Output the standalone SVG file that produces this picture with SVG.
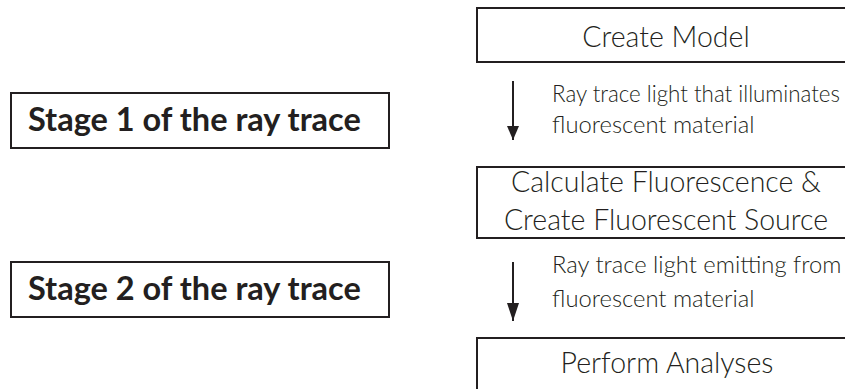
<svg xmlns="http://www.w3.org/2000/svg" width="845" height="389" viewBox="0 0 845 389">
<style>
.box{fill:#fff;stroke:#231f20;stroke-width:2}
.t{font-family:Lato,"Open Sans","Liberation Sans",sans-serif;font-weight:300;fill:#231f20}
.big{font-size:28.5px;text-anchor:middle}
.lab{font-size:23.8px}
.stage{font-family:Lato,"Open Sans","Liberation Sans",sans-serif;font-weight:700;font-size:32.5px;fill:#231f20}
.conn{stroke:#231f20;stroke-width:2;fill:none}
</style>
<defs>
<marker id="ah" viewBox="0 0 14 12" refX="14" refY="6" markerWidth="14" markerHeight="12" orient="auto" markerUnits="userSpaceOnUse">
<path d="M0,0 L14,6 L0,12 Z" fill="#231f20"/>
</marker>
<marker id="ah2" viewBox="0 0 18 12" refX="18" refY="6" markerWidth="18" markerHeight="12" orient="auto" markerUnits="userSpaceOnUse">
<path d="M0,0 L18,6 L0,12 Z" fill="#231f20"/>
</marker>
</defs>
<rect width="845" height="389" fill="#fff"/>
<g id="stage1">
<rect class="box" x="11" y="93" width="378" height="55"/>
<text class="stage" x="28" y="131">Stage 1 of the ray trace</text>
</g>
<g id="stage2">
<rect class="box" x="11" y="262" width="378" height="55"/>
<text class="stage" x="28" y="300">Stage 2 of the ray trace</text>
</g>
<g id="create-model">
<rect class="box" x="477" y="8" width="380" height="54"/>
<text class="t big" x="666" y="47">Create Model</text>
</g>
<g id="calculate">
<rect class="box" x="477" y="167" width="380" height="71"/>
<text class="t big" x="666" y="192">Calculate Fluorescence &amp;</text>
<text class="t big" x="666" y="230">Create Fluorescent Source</text>
</g>
<g id="perform">
<rect class="box" x="477" y="338" width="380" height="60"/>
<text class="t big" x="667" y="373">Perform Analyses</text>
</g>
<g id="connectors">
<line class="conn" x1="513" y1="81" x2="513" y2="140" marker-end="url(#ah)"/>
<text class="t lab" x="552" y="102" textLength="288" lengthAdjust="spacingAndGlyphs">Ray trace light that illuminates</text>
<text class="t lab" x="552" y="133">fluorescent material</text>
<line class="conn" x1="513" y1="262" x2="513" y2="321" marker-end="url(#ah2)"/>
<text class="t lab" x="552" y="273">Ray trace light emitting from</text>
<text class="t lab" x="552" y="307">fluorescent material</text>
</g>
</svg>
